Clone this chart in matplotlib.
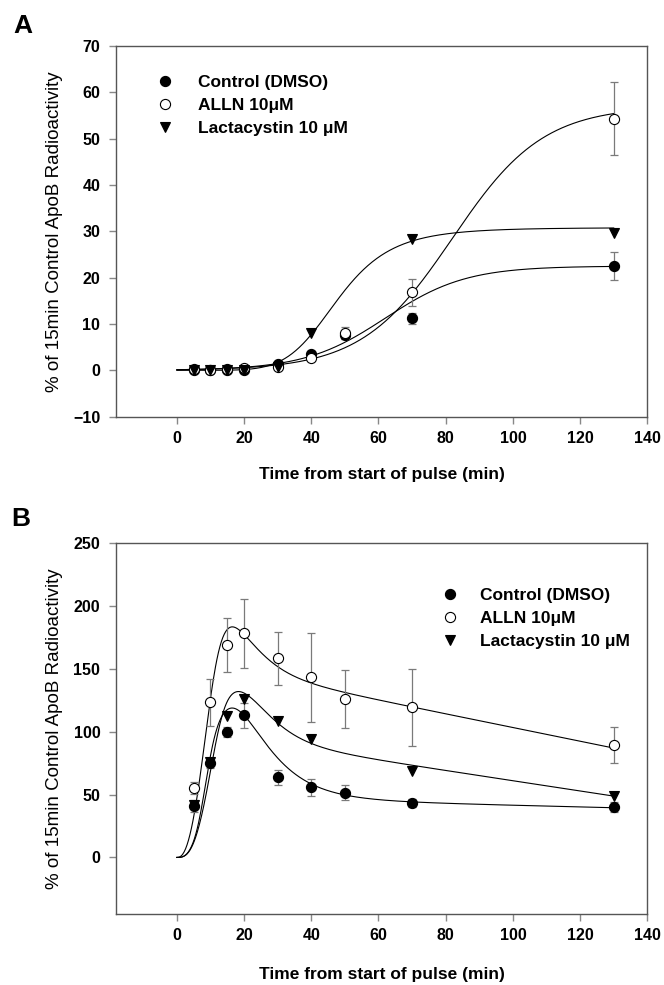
import numpy as np
import matplotlib
matplotlib.use("Agg")
import matplotlib.pyplot as plt
from matplotlib.lines import Line2D

plt.rcParams['font.family'] = ['Liberation Sans', 'DejaVu Sans']

# ---------------- data ----------------
time = [5, 10, 15, 20, 30, 40, 50, 70, 130]

# Panel A
a_ctrl = [0.0, 0.0, 0.0, 0.0, 1.3, 3.6, 7.6, 11.2, 22.6]
a_ctrl_err = [0.0, 0.0, 0.0, 0.0, 0.3, 0.6, 0.8, 1.2, 3.0]
a_alln = [0.2, 0.1, 0.3, 0.4, 0.8, 2.6, 8.0, 16.8, 54.3]
a_alln_err = [0.0, 0.0, 0.0, 0.0, 0.3, 0.5, 1.3, 2.9, 7.9]
a_lact_t = [5, 10, 15, 20, 30, 40, 70, 130]
a_lact = [0.0, 0.0, 0.0, 0.0, 0.8, 8.0, 28.3, 29.6]

# Panel B
b_ctrl = [40.8, 74.8, 100.0, 113.3, 63.7, 55.7, 51.4, 43.5, 39.8]
b_ctrl_err = [5, 4, 4, 10, 6, 7, 6, 3, 4]
b_alln = [55.4, 123.4, 169.0, 178.3, 158.4, 143.3, 125.8, 119.4, 89.2]
b_alln_err = [5, 18.5, 21.5, 27.5, 21, 35.7, 23, 30.7, 14.4]
b_lact_t = [5, 10, 15, 20, 30, 40, 70, 130]
b_lact = [42.0, 76.0, 112.5, 125.8, 108.5, 94.0, 69.0, 48.8]

labels = ["Control (DMSO)", "ALLN 10\u03bcM", "Lactacystin 10 \u03bcM"]

# fitted-curve parameters
fitA_ctrl = (22.5, 62.0, 12.0)      # logistic: amplitude, midpoint, slope
fitA_alln = (57.0, 82.0, 13.5)      # logistic
fitA_lact = (30.8, 48.0, 6.0)       # Hill: amplitude, half-time, exponent
# rise * (plateau line + log-normal peak): p0, p1, A, tp, s2, tau, k
fitB_ctrl = (48.0, -0.065, 72.0, 16.5, 0.23, 7.5, 3.0)
fitB_alln = (157.9, -0.545, 37.0, 15.5, 0.171, 9.0, 2.5)
fitB_lact = (101.8, -0.4075, 38.0, 18.5, 0.15, 10.0, 3.0)


def logistic(t, p):
    a, t0, b = p
    return a / (1 + np.exp(-(t - t0) / b))


def hill(t, p):
    a, c, n = p
    return a * t ** n / (t ** n + c ** n)


def peakfit(t, p):
    p0, p1, A, tp, s2, tau, k = p
    rise = 1 - np.exp(-(t / tau) ** k)
    return rise * (p0 + p1 * t + A * np.exp(-(np.log(t / tp)) ** 2 / (2 * s2)))


tt = np.linspace(0.001, 130, 600)

fig = plt.figure(figsize=(6.64, 9.85), dpi=100)
axA = fig.add_axes([0.1752, 0.577, 0.7997, 0.3763])
axB = fig.add_axes([0.1752, 0.0721, 0.7997, 0.3763])

spine_c = '#555555'
tick_c = '#888888'
err_c = '#7a7a7a'
ms = 7.3


def style(ax, ylim, yticks, xlab_y):
    ax.set_xlim(-18, 140)
    ax.set_ylim(*ylim)
    ax.set_xticks(range(0, 141, 20))
    ax.set_yticks(yticks)
    for s in ax.spines.values():
        s.set_color(spine_c)
        s.set_linewidth(1.0)
    ax.tick_params(direction='out', length=5, width=1.0, color=tick_c,
                   labelsize=11.5, top=False, right=False)
    ax.tick_params(axis='x', pad=5)
    ax.tick_params(axis='y', pad=6.5)
    for lab in ax.get_xticklabels() + ax.get_yticklabels():
        lab.set_fontweight('bold')
    ax.set_xlabel("Time from start of pulse (min)", fontsize=12.5, fontweight='bold')
    ax.set_ylabel("% of 15min Control ApoB Radioactivity", fontsize=13.5)
    ax.yaxis.set_label_coords(-0.100, 0.5)
    ax.xaxis.set_label_coords(0.5, xlab_y)


def draw_points(ax, x, y, err, marker, face):
    if err is not None:
        ax.errorbar(x, y, yerr=err, fmt='none', ecolor=err_c, elinewidth=0.9,
                    capsize=3, capthick=0.9, zorder=3)
    ax.plot(x, y, linestyle='none', marker=marker, markersize=ms,
            markerfacecolor=face, markeredgecolor='black', markeredgewidth=0.8,
            zorder=4)


# ---------- Panel A ----------
axA.plot(tt, logistic(tt, fitA_ctrl), color='black', lw=0.8, zorder=2)
axA.plot(tt, logistic(tt, fitA_alln), color='black', lw=0.8, zorder=2)
axA.plot(tt, hill(tt, fitA_lact), color='black', lw=0.8, zorder=2)
draw_points(axA, time, a_ctrl, a_ctrl_err, 'o', 'black')
draw_points(axA, time, a_alln, a_alln_err, 'o', 'white')
draw_points(axA, a_lact_t, a_lact, None, 'v', 'black')
style(axA, (-10, 70), range(-10, 71, 10), -0.136)

# ---------- Panel B ----------
axB.plot(tt, peakfit(tt, fitB_ctrl), color='black', lw=0.8, zorder=2)
axB.plot(tt, peakfit(tt, fitB_alln), color='black', lw=0.8, zorder=2)
axB.plot(tt, peakfit(tt, fitB_lact), color='black', lw=0.8, zorder=2)
draw_points(axB, time, b_ctrl, b_ctrl_err, 'o', 'black')
draw_points(axB, time, b_alln, b_alln_err, 'o', 'white')
draw_points(axB, b_lact_t, b_lact, None, 'v', 'black')
style(axB, (-45, 250), range(0, 251, 50), -0.143)

handles = [
    Line2D([], [], linestyle='none', marker='o', markersize=ms, markerfacecolor='black',
           markeredgecolor='black', markeredgewidth=0.8),
    Line2D([], [], linestyle='none', marker='o', markersize=ms, markerfacecolor='white',
           markeredgecolor='black', markeredgewidth=0.8),
    Line2D([], [], linestyle='none', marker='v', markersize=ms, markerfacecolor='black',
           markeredgecolor='black', markeredgewidth=0.8),
]
for ax, anchor, tpad in ((axA, (0.0753, 0.922), 1.41), (axB, (0.612, 0.880), 1.22)):
    ax.legend(handles, labels, loc='upper left', bbox_to_anchor=anchor,
              frameon=False, borderpad=0, borderaxespad=0, handlelength=1.0,
              handletextpad=tpad, labelspacing=0.45,
              prop={'size': 12.5, 'weight': 'bold'})

fig.text(23 / 664, 1 - 26 / 985, "A", fontsize=19, fontweight='bold', ha='center', va='center')
fig.text(21 / 664, 1 - 519 / 985, "B", fontsize=19, fontweight='bold', ha='center', va='center')

fig.savefig("out.png", dpi=100)
